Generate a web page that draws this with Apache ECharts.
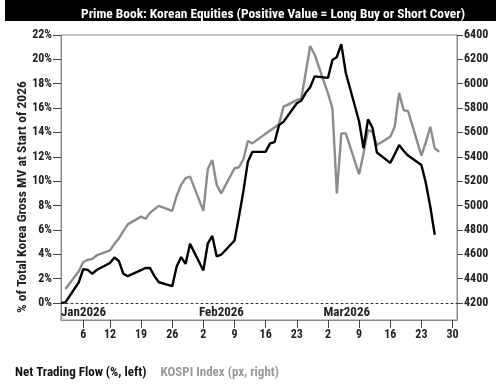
<!DOCTYPE html>
<html>
<head>
<meta charset="utf-8">
<script src="https://cdn.jsdelivr.net/npm/echarts@6/dist/echarts.min.js"></script>
<style>
html,body{margin:0;padding:0;background:#fff;}
#c{width:500px;height:384px;}
</style>
</head>
<body>
<div id="c"></div>
<script>
const titleText = 'Prime Book: Korean Equities (Positive Value = Long Buy or Short Cover)';
const yAxisTitle = '% of Total Korea Gross MV at Start of 2026';
const seriesNames = ['Net Trading Flow (%, left)', 'KOSPI Index (px, right)'];

const dates = ['2026-01-01','2026-01-02','2026-01-05','2026-01-06','2026-01-07','2026-01-08','2026-01-09','2026-01-12','2026-01-13','2026-01-14','2026-01-15','2026-01-16','2026-01-19','2026-01-20','2026-01-21','2026-01-22','2026-01-23','2026-01-26','2026-01-27','2026-01-28','2026-01-29','2026-01-30',
'2026-02-02','2026-02-03','2026-02-04','2026-02-05','2026-02-06','2026-02-09','2026-02-10','2026-02-11','2026-02-12','2026-02-13','2026-02-16','2026-02-17','2026-02-18','2026-02-19','2026-02-20','2026-02-23','2026-02-24','2026-02-25','2026-02-26','2026-02-27',
'2026-03-02','2026-03-03','2026-03-04','2026-03-05','2026-03-06','2026-03-09','2026-03-10','2026-03-11','2026-03-12','2026-03-13','2026-03-16','2026-03-17','2026-03-18','2026-03-19','2026-03-20','2026-03-23','2026-03-24','2026-03-25','2026-03-26','2026-03-27'];

const netFlow = [0, 0.05, 1.7, 2.78, 2.72, 2.4, 2.7, 3.28, 3.73, 3.45, 2.4, 2.2, 2.7, 2.87, 2.87, 2.2, 1.7, 1.38, 3.0, 3.77, 3.2, 4.85,
2.67, 4.9, 5.5, 3.82, 3.96, 5.13, 7.1, 9.2, 11.6, 12.4, 12.42, 13.1, 13.2, 14.6, 14.87, 16.4, 16.6, 17.25, 17.7, 18.6,
18.48, 19.95, 20.2, 21.24, 18.9, 14.9, 12.7, 15.07, 14.4, 12.35, 11.5, 12.2, 12.96, 12.5, 12.1, 11.33, 9.85, 7.9, 5.6, null];

const kospi = [null, 4315, 4460, 4536, 4555, 4560, 4590, 4631, 4685, 4730, 4790, 4845, 4909, 4890, 4940, 4970, 4997, 4956, 5080, 5170, 5224, 5237,
4956, 5300, 5374, 5169, 5100, 5306, 5314, 5380, 5530, 5510, 5590, 5615, 5640, 5670, 5810, 5865, 5880, 6090, 6310, 6240,
5920, 5800, 5100, 5592, 5592, 5256, 5430, 5619, 5605, 5496, 5565, 5646, 5925, 5783, 5775, 5410, 5520, 5646, 5470, 5442];

const dayTicks = ['2026-01-06','2026-01-12','2026-01-19','2026-01-26','2026-02-02','2026-02-09','2026-02-16','2026-02-23','2026-03-02','2026-03-09','2026-03-16','2026-03-23','2026-03-30'];
const monthTicks = ['2026-01-01','2026-02-01','2026-03-01'];
const monthLabels = ['Jan2026','Feb2026','Mar2026'];
const leftTicks = [0,2,4,6,8,10,12,14,16,18,20,22];
const rightTicks = [4200,4400,4600,4800,5000,5200,5400,5600,5800,6000,6200,6400];

// day number since 2026-01-01 (UTC based, timezone independent)
function dayNum(s){ const p = s.split('-').map(Number); return Math.round((Date.UTC(p[0], p[1]-1, p[2]) - Date.UTC(2026,0,1)) / 86400000); }
function dayOfMonth(n){ return new Date(Date.UTC(2026,0,1) + n*86400000).getUTCDate(); }

const FONT = "'Liberation Sans Narrow', 'Roboto Condensed', 'Arial Narrow', Roboto, sans-serif";
const axisColor = '#8a8a8a';
const monthNums = monthTicks.map(dayNum);

const chart = echarts.init(document.getElementById('c'), null, {renderer:'canvas'});
chart.setOption({
  animation: false,
  textStyle: {fontFamily: FONT},
  title: {
    text: titleText, left: 268, top: 3, textAlign: 'center',
    textStyle: {color:'#fff', fontSize: 13.4, fontWeight:'bold', fontFamily: FONT}
  },
  graphic: [
    {type:'rect', left: 5, top: 0, z: -1, shape:{width: 491, height: 21}, style:{fill:'#000'}},
    {type:'text', x: 23, y: 197, rotation: Math.PI/2,
     style:{text: yAxisTitle, fill:'#222', fontSize: 13.6, fontWeight:'bold', fontFamily: FONT, align: 'center', verticalAlign: 'middle'}}
  ],
  legend: {
    left: 4, top: 361, itemWidth: 0, itemHeight: 0, itemGap: 8,
    textStyle: {fontSize: 13, fontWeight: 'bold', fontFamily: FONT},
    data: [
      {name: seriesNames[0], textStyle:{color:'#111'}},
      {name: seriesNames[1], textStyle:{color:'#999'}}
    ]
  },
  grid: {left: 61, right: 43, top: 35, bottom: 64, show: true, borderColor: axisColor, borderWidth: 1},
  xAxis: [
    {
      type: 'value', min: 0, max: 89, position: 'bottom',
      axisLine: {show: true, onZero: false, lineStyle: {color: axisColor, width: 1}},
      axisTick: {show: true, length: 8, customValues: dayTicks.map(dayNum), lineStyle:{color:'#444'}},
      axisLabel: {customValues: dayTicks.map(dayNum), margin: 9, fontSize: 12, fontWeight:'bold', color:'#222',
        formatter: v => String(dayOfMonth(v))},
      splitLine: {show: false}
    },
    {
      type: 'value', min: 0, max: 89, position: 'bottom', offset: -17,
      axisLine: {show: true, onZero: false, lineStyle: {color: '#333', width: 1, type: [2, 3]}},
      axisTick: {show: false},
      axisLabel: {customValues: monthNums, margin: 3, fontSize: 13, fontWeight:'bold', color:'#222', align: 'left',
        formatter: (v) => monthLabels[monthNums.indexOf(v)] || ''},
      splitLine: {show: false}
    }
  ],
  yAxis: [
    {
      type: 'value', position: 'left', min: -1.4, max: 22,
      axisLine: {show: true, onZero: false, lineStyle: {color: axisColor}},
      axisTick: {show: true, length: 8, customValues: leftTicks, lineStyle:{color:'#444'}},
      axisLabel: {customValues: leftTicks, margin: 9, fontSize: 12, fontWeight:'bold', color:'#222', formatter: v => v + '%'},
      splitLine: {show: false}
    },
    {
      type: 'value', position: 'right', min: 4060, max: 6400,
      axisLine: {show: true, onZero: false, lineStyle: {color: axisColor}},
      axisTick: {show: true, length: 6, customValues: rightTicks, lineStyle:{color:'#444'}},
      axisLabel: {customValues: rightTicks, margin: 7, fontSize: 12, fontWeight:'bold', color:'#222', formatter: v => String(v)},
      splitLine: {show: false}
    }
  ],
  series: [
    {
      name: seriesNames[1], type: 'line', xAxisIndex: 0, yAxisIndex: 1, z: 2,
      data: dates.map((d, i) => [dayNum(d), kospi[i]]),
      showSymbol: false, symbol: 'none', connectNulls: false,
      lineStyle: {color: '#8c8c8c', width: 2.4}, itemStyle: {color: '#8c8c8c'}
    },
    {
      name: seriesNames[0], type: 'line', xAxisIndex: 0, yAxisIndex: 0, z: 3,
      data: dates.map((d, i) => [dayNum(d), netFlow[i]]),
      showSymbol: false, symbol: 'none',
      lineStyle: {color: '#000', width: 2.4}, itemStyle: {color: '#000'}
    }
  ]
});
</script>
</body>
</html>
